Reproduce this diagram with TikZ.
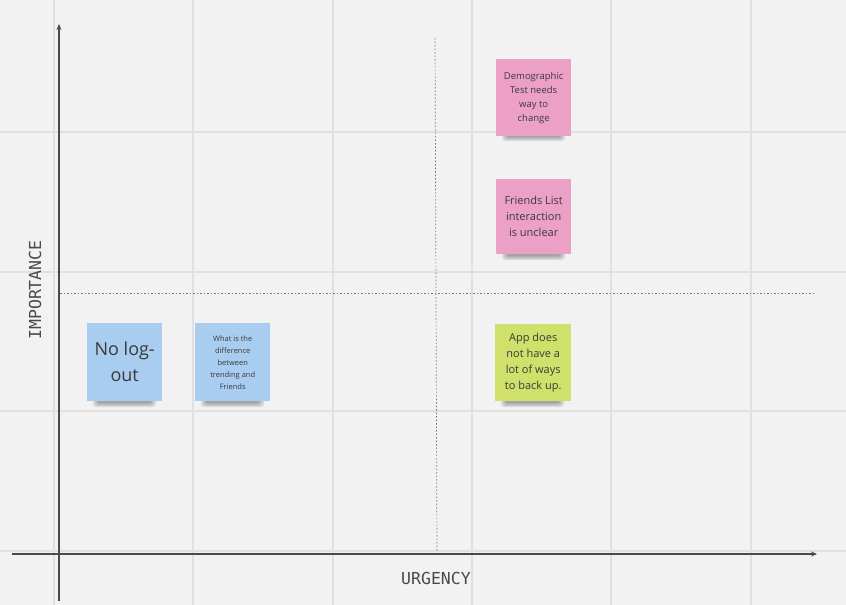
\documentclass[tikz,border=0pt]{standalone}
\usepackage{fontspec}
\setmainfont{Open Sans}
\newfontfamily\axisfont{DejaVu Sans Mono}
\usetikzlibrary{arrows.meta}
\definecolor{bg}{HTML}{F2F2F2}
\definecolor{gridc}{HTML}{E0E0E0}
\definecolor{axisc}{HTML}{4A4A4A}
\definecolor{dotc}{HTML}{6E6E9A}
\definecolor{pinkn}{HTML}{EDA0C6}
\definecolor{bluen}{HTML}{A9CDF1}
\definecolor{greenn}{HTML}{CFE16B}
\definecolor{notetext}{HTML}{3A3A3A}
\tikzset{
  note/.style={minimum width=75pt, minimum height=77pt, inner sep=2pt, align=center, text=notetext, anchor=north west},
  gridline/.style={draw=gridc, line width=1.3pt},
  axisline/.style={draw=axisc, line width=1.1pt, -{Stealth[length=6pt,width=5pt]}},
  dotline/.style={draw=dotc, line width=0.7pt, dash pattern=on 1.5pt off 2pt},
  axislabel/.style={font=\axisfont\fontsize{16.5}{18}\selectfont, text=axisc},
  shade/.style={fill=black, opacity=0.09}
}
\begin{document}
\begin{tikzpicture}[x=1pt,y=-1pt]
\fill[bg] (0,0) rectangle (846,605);
\useasboundingbox (0,0) rectangle (846,605);
% grid
\foreach \gx in {54,193,333,472,611,751} \draw[gridline] (\gx,0) -- (\gx,605);
\foreach \gy in {132,272,411,551} \draw[gridline] (0,\gy) -- (846,\gy);
% dotted quadrant lines
\coordinate (vtop) at (435,38);
\coordinate (vbot) at (437,553);
\coordinate (hleft) at (60,293);
\coordinate (hright) at (816,293);
\draw[dotline] (vtop) -- (vbot);
\draw[dotline] (hleft) -- (hright);
% axes
\coordinate (yb) at (59,601);
\coordinate (yt) at (59,24);
\coordinate (xl) at (12,554);
\coordinate (xr) at (817,554);
\draw[axisline] (yb) -- (yt);
\draw[axisline] (xl) -- (xr);
\node[axislabel, rotate=90] (imp) at (35,290) {IMPORTANCE};
\node[axislabel] (urg) at (436,578) {URGENCY};
% soft shadows
\foreach \sx/\sy in {496/135, 496/254, 495/401, 87/401, 195/401} {
  \foreach \k in {0,1,2,3} {
    \fill[shade, rounded corners=3pt] (\sx+6+\k*1.5,\sy-3) rectangle (\sx+69-\k*1.5,\sy+6-\k*1.2);
  }
}
% notes
\node[note, fill=pinkn, font=\fontsize{9.5}{14}\selectfont] (demo) at (496,59) {Demographic\\Test needs\\way to\\change};
\node[note, fill=pinkn, minimum height=75pt, font=\fontsize{11}{16}\selectfont] (friends) at (496,179) {Friends List\\interaction\\is unclear};
\node[note, fill=greenn, minimum width=76pt, font=\fontsize{11}{16}\selectfont] (app) at (495,324) {App does\\not have a\\lot of ways\\to back up.};
\node[note, fill=bluen, minimum height=78pt, font=\fontsize{18}{26}\selectfont] (nolog) at (87,323) {No log-\\out};
\node[note, fill=bluen, minimum height=78pt, font=\fontsize{7.5}{12}\selectfont] (what) at (195,323) {What is the\\difference\\between\\trending and\\Friends};
\end{tikzpicture}
\end{document}
